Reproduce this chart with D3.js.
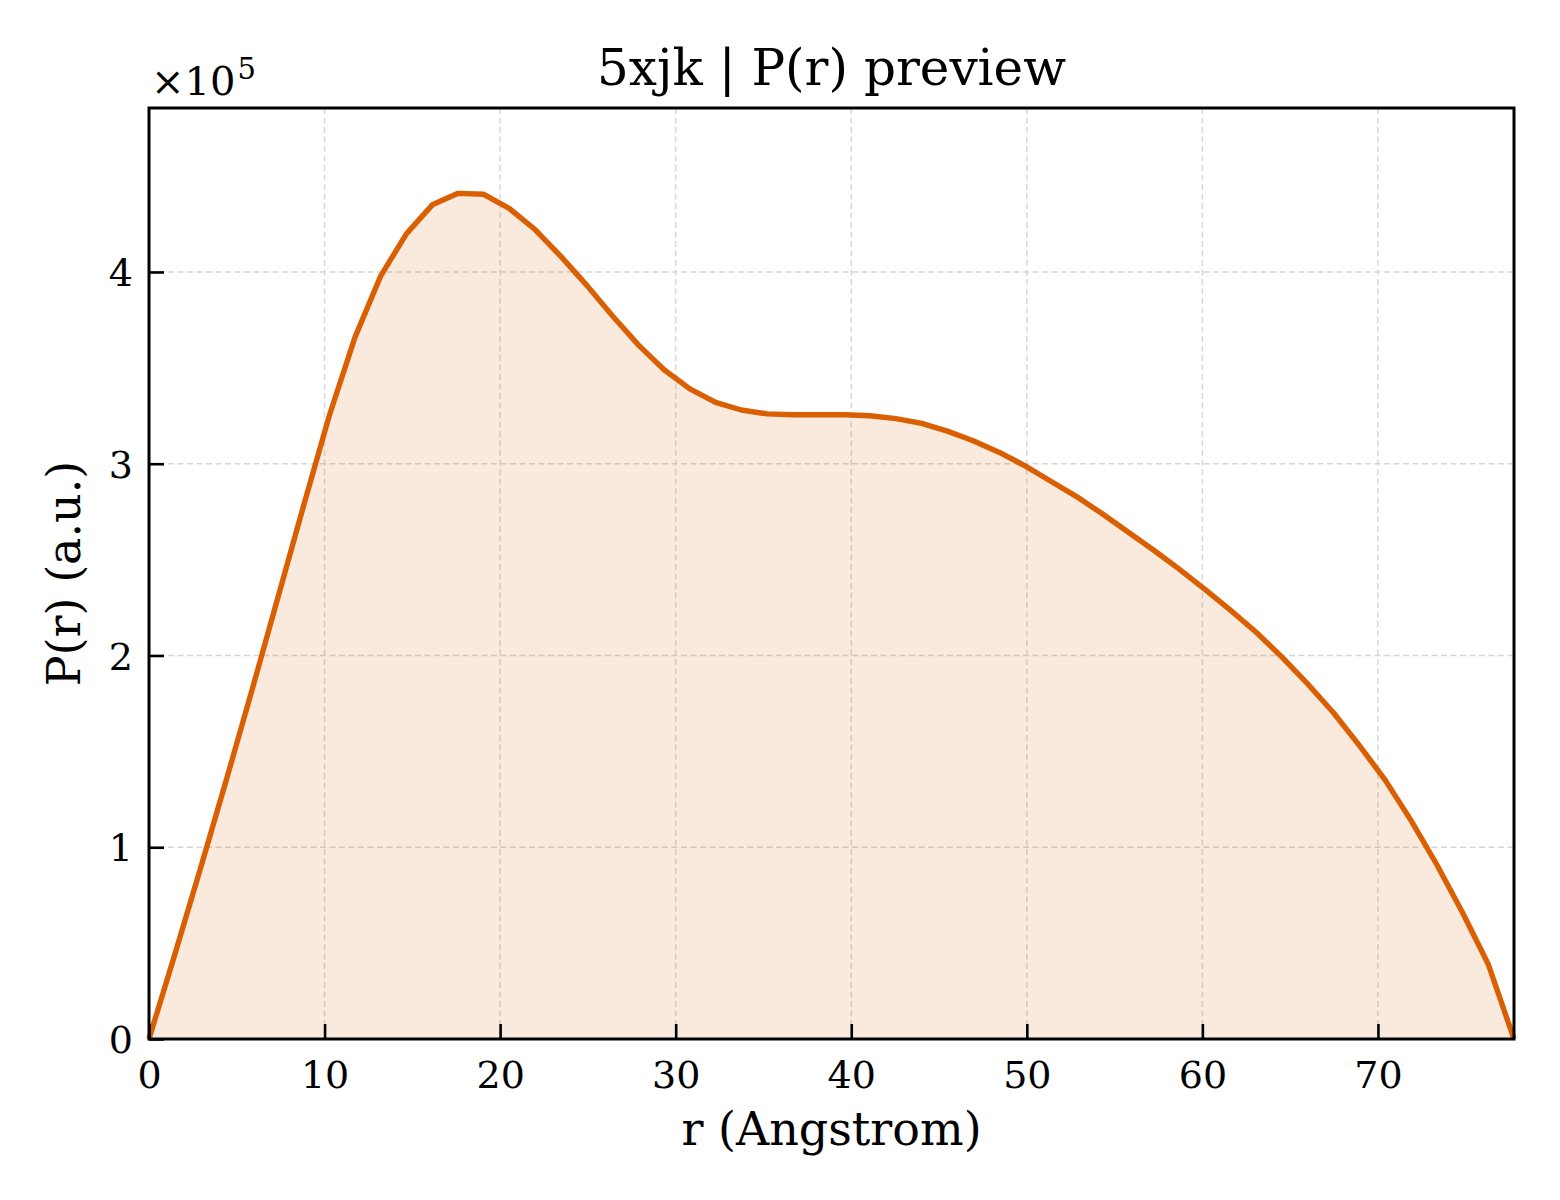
<!DOCTYPE html>
<html>
<head>
<meta charset="utf-8">
<script src="https://cdn.jsdelivr.net/npm/d3@7"></script>
<style>
  body { margin: 0; background: #fff; }
  svg text { font-family: "DejaVu Serif", serif; fill: #000; }
</style>
</head>
<body>
<div id="chart"></div>
<script>
// P(r) curve (values in a.u.)
var dmax = 77.75
var rValues = d3.range(54).map(function(i){ return i * dmax / 53 })
var prValues = [
  0, 44000, 89000, 135000, 182000, 230000, 278000, 325000, 366000, 398000,
  420000, 435000, 441000, 440500, 433000, 422000, 408000, 393000, 377000, 362000,
  349000, 339000, 332000, 328000, 326000, 325500, 325500, 325500, 325000, 323500,
  321000, 317000, 312000, 306000, 299000, 291000, 283000, 274000, 264500, 255000,
  245000, 234500, 223500, 212000, 199000, 185000, 170000, 153000, 135000, 114000,
  91000, 66000, 39000, 0
]
var xTicks = [0, 10, 20, 30, 40, 50, 60, 70]
var yTicks = [0, 100000, 200000, 300000, 400000]

var W = 1560, H = 1200
var m = {left: 149, right: 1514, top: 108, bottom: 1039}
var lineColor = '#d95f02'

var svg = d3.select('#chart').append('svg')
    .attr('width', W).attr('height', H)

var x = d3.scaleLinear().domain([0, dmax]).range([m.left, m.right])
var y = d3.scaleLinear().domain([0, 485500]).range([m.bottom, m.top])

var pts = rValues.map(function(r, i){ return [r, prValues[i]] })

// grid
var grid = svg.append('g')
grid.selectAll('.gx').data(xTicks).enter().append('line')
    .attr('x1', d => x(d)).attr('x2', d => x(d))
    .attr('y1', m.top).attr('y2', m.bottom)
    .attr('stroke', '#d6d6d6').attr('stroke-width', 1.4)
    .attr('stroke-dasharray', '6,3.5')
grid.selectAll('.gy').data(yTicks).enter().append('line')
    .attr('y1', d => y(d)).attr('y2', d => y(d))
    .attr('x1', m.left).attr('x2', m.right)
    .attr('stroke', '#d6d6d6').attr('stroke-width', 1.4)
    .attr('stroke-dasharray', '6,3.5')

// area + line
svg.append('path').datum(pts)
    .attr('d', d3.area().x(d => x(d[0])).y0(y(0)).y1(d => y(d[1])))
    .attr('fill', lineColor).attr('fill-opacity', 0.13)
svg.append('path').datum(pts)
    .attr('d', d3.line().x(d => x(d[0])).y(d => y(d[1])))
    .attr('fill', 'none').attr('stroke', lineColor)
    .attr('stroke-width', 5.4).attr('stroke-linejoin', 'round')

// axes, ticks inward
var xAxis = svg.append('g').attr('transform', 'translate(0,' + m.bottom + ')')
    .call(d3.axisBottom(x).tickValues(xTicks).tickSizeInner(-15).tickSizeOuter(0).tickPadding(22))
var yAxis = svg.append('g').attr('transform', 'translate(' + m.left + ',0)')
    .call(d3.axisLeft(y).tickValues(yTicks).tickFormat(d => d / 100000).tickSizeInner(-15).tickSizeOuter(0).tickPadding(16))
;[xAxis, yAxis].forEach(function(a){
  a.select('.domain').remove()
  a.selectAll('.tick line').attr('stroke', '#000').attr('stroke-width', 2.6)
  a.selectAll('.tick text').style('font-size', '38px').attr('fill', '#000')
})
yAxis.selectAll('.tick text').attr('dy', '0.36em')

// frame
svg.append('rect')
    .attr('x', m.left).attr('y', m.top)
    .attr('width', m.right - m.left).attr('height', m.bottom - m.top)
    .attr('fill', 'none').attr('stroke', '#000').attr('stroke-width', 3)

// texts
svg.append('text').attr('x', (m.left + m.right) / 2).attr('y', 85)
    .attr('text-anchor', 'middle').style('font-size', '50px')
    .text('5xjk | P(r) preview')
svg.append('text').attr('x', (m.left + m.right) / 2).attr('y', 1145)
    .attr('text-anchor', 'middle').style('font-size', '46px')
    .text('r (Angstrom)')
svg.append('text')
    .attr('transform', 'translate(80,' + (m.top + m.bottom) / 2 + ') rotate(-90)')
    .attr('text-anchor', 'middle').style('font-size', '46px')
    .text('P(r) (a.u.)')

var off = svg.append('text').attr('x', 151).attr('y', 95).style('font-size', '40px')
off.append('tspan').text('×10')
off.append('tspan').attr('dy', -16).attr('dx', 2).style('font-size', '29px').text('5')
</script>
</body>
</html>
